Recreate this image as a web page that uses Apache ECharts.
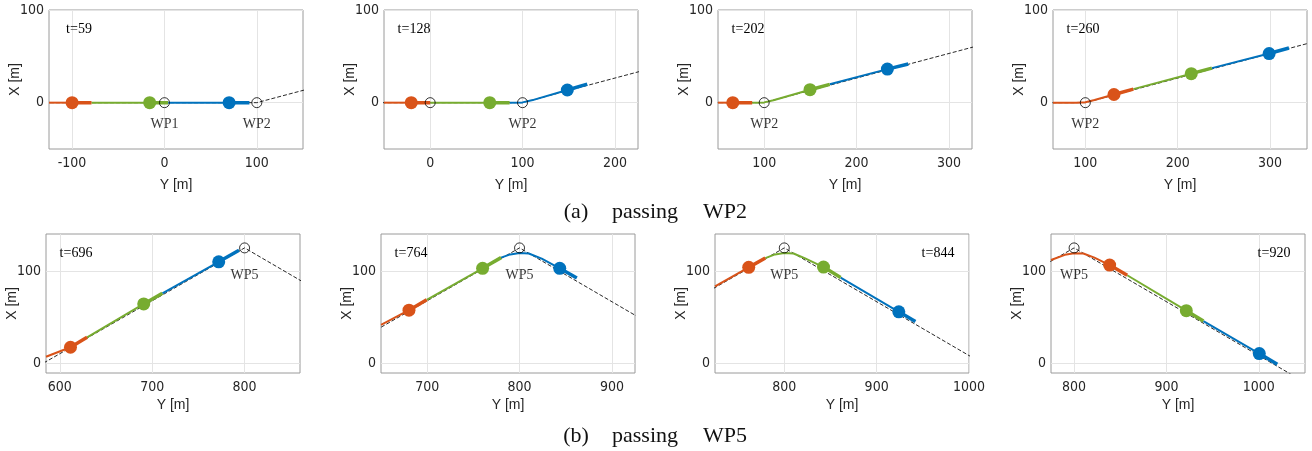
<!DOCTYPE html>
<html>
<head>
<meta charset="utf-8">
<script src="https://cdn.jsdelivr.net/npm/echarts@6/dist/echarts.min.js"></script>
<style>
html,body{margin:0;padding:0;background:#fff}
#main{width:1312px;height:451px}
</style>
</head>
<body>
<div id="main"></div>
<script>
// snapshot times
var tLabels = ['t=59', 't=128', 't=202', 't=260', 't=696', 't=764', 't=844', 't=920'];

// axis ranges per panel (horizontal = Y [m], vertical = X [m])
var xMin = [-125, -50, 50, 65, 585, 650, 725, 775];
var xMax = [150, 225, 325, 340, 860, 925, 1000, 1050];
var yMin = [-50, -50, -50, -50, -10, -10, -10, -10];
var yMax = [100, 100, 100, 100, 140, 140, 140, 140];
var xTicks = [[-100, 0, 100], [0, 100, 200], [100, 200, 300], [100, 200, 300],
              [600, 700, 800], [700, 800, 900], [800, 900, 1000], [800, 900, 1000]];
var yTicks = [0, 100];

// reference path, [Y, X]
var refA = [[-150, 0], [0, 0], [100, 0], [360, 69]];
var refB = [[560, -12], [800, 125], [1060, -26]];

// waypoints
var wpA = [[0, 0], [100, 0]];
var wpNamesA = ['WP1', 'WP2'];
var wpB = [[800, 125]];
var wpNamesB = ['WP5'];
var wpShown = [['WP1', 'WP2'], ['WP2'], ['WP2'], ['WP2'], ['WP5'], ['WP5'], ['WP5'], ['WP5']];

// vehicles: trail behind, current position, tip of heading segment
var orangeTrail = [[[-125, 0]], [[-50, 0]], [[50, 0]], [[65, 0], [90, 0], [100, 0.4], [110, 2.8]],
                   [[585, 7.5]], [[650, 42]], [[725, 83.5]],
                   [[775, 112], [790, 117.5], [800, 119.3], [810, 119], [822, 114.5]]];
var orangePos = [[-100, 0], [-20.5, 0], [66, 0], [131, 8.8], [611.5, 17.8], [680.3, 57.8], [761.5, 104], [838.5, 106.5]];
var orangeTip = [[-79, 0], [0, 0], [87, 0], [152, 14.6], [629.5, 28.5], [699.5, 69], [779.5, 114], [857.5, 95.5]];

var greenTrail = [[[-79, 0]], [[0, 0]], [[87, 0], [100, 0.3], [110, 2.6]], [[152, 14.6]],
                  [[629.5, 28.5]], [[699.5, 69]],
                  [[779.5, 114], [790, 118], [800, 119.5], [810, 119], [822, 114]], [[857.5, 95.5]]];
var greenPos = [[-16, 0], [64.5, 0], [149.6, 14], [214.7, 31.3], [690.8, 64.5], [760, 103], [842.5, 104.3], [921.5, 57.3]];
var greenTip = [[4, 0], [86, 0], [171, 19.8], [237, 37.3], [711, 76], [780, 114.5], [861, 93], [940, 46]];

var blueTrail = [[[4, 0]], [[86, 0], [100, 0.3], [110, 2.5]], [[171, 19.8]], [[237, 37.3]],
                 [[711, 76]], [[780, 114.5], [790, 118], [800, 119.5], [810, 119], [824, 113.5]],
                 [[861, 93]], [[940, 46]]];
var bluePos = [[70, 0], [148.5, 13.7], [233.4, 36.2], [299, 53], [772, 110], [843.5, 103], [924, 56], [1000.5, 11]];
var blueTip = [[92, 0], [170, 20], [256, 41.8], [320.5, 59], [794, 122.5], [862, 92.5], [942, 45.5], [1020, -0.5]];

var myChart = echarts.init(document.getElementById('main'));

var gLeft = [49, 384, 718, 1053, 46, 381, 715, 1051];
var gWidth = 254, gHeight = 139;
var sans = '"Liberation Sans Narrow","DejaVu Sans Condensed","Liberation Sans",Arial,sans-serif';
var serif = '"Liberation Serif","DejaVu Serif",serif';

var grids = [], xAxes = [], yAxes = [], series = [], graphics = [];

function plain(v) { return String(v); }

function addVehicle(i, color, trail, pos, tip) {
	series.push({
		type: 'line', xAxisIndex: i, yAxisIndex: i, symbol: 'none', silent: true, z: 2,
		lineStyle: {color: color, width: 2},
		data: trail[i].concat([pos[i]])
	});
	series.push({
		type: 'line', xAxisIndex: i, yAxisIndex: i, symbol: 'none', silent: true, z: 3,
		lineStyle: {color: color, width: 3.5},
		data: [pos[i], tip[i]]
	});
	series.push({
		type: 'scatter', xAxisIndex: i, yAxisIndex: i, symbolSize: 13, silent: true, z: 4,
		itemStyle: {color: color, opacity: 1},
		data: [pos[i]]
	});
}

for (var i = 0; i < 8; i++) {
	var gTop = i < 4 ? 10 : 234;
	grids.push({left: gLeft[i], top: gTop, width: gWidth, height: gHeight,
		show: true, borderColor: '#9a9a9a', borderWidth: 1});
	xAxes.push({
		gridIndex: i, type: 'value', min: xMin[i], max: xMax[i],
		name: 'Y [m]', nameLocation: 'middle', nameGap: i < 4 ? 29 : 25, nameMoveOverlap: false,
		nameTextStyle: {fontFamily: '"Liberation Sans",Arial,sans-serif', fontSize: 14, color: '#262626'},
		axisLine: {show: false},
		axisTick: {show: false, customValues: xTicks[i]},
		axisLabel: {customValues: xTicks[i], formatter: plain, fontFamily: sans, fontSize: 14, color: '#262626', margin: 7},
		splitLine: {show: true, lineStyle: {color: '#e4e4e4', width: 1}}
	});
	yAxes.push({
		gridIndex: i, type: 'value', min: yMin[i], max: yMax[i],
		name: 'X [m]', nameLocation: 'middle', nameGap: 27, nameRotate: 90, nameMoveOverlap: false,
		nameTextStyle: {fontFamily: '"Liberation Sans",Arial,sans-serif', fontSize: 14, color: '#262626'},
		axisLine: {show: false},
		axisTick: {show: false, customValues: yTicks},
		axisLabel: {customValues: yTicks, formatter: plain, fontFamily: sans, fontSize: 14, color: '#262626', margin: 5},
		splitLine: {show: true, lineStyle: {color: '#e4e4e4', width: 1}}
	});

	// reference path
	series.push({
		type: 'line', xAxisIndex: i, yAxisIndex: i, symbol: 'none', silent: true, z: 1,
		lineStyle: {color: '#111', width: 0.9, type: [4, 2]},
		data: i < 4 ? refA : refB
	});

	addVehicle(i, '#D95319', orangeTrail, orangePos, orangeTip);
	addVehicle(i, '#77AC30', greenTrail, greenPos, greenTip);
	addVehicle(i, '#0072BD', blueTrail, bluePos, blueTip);

	// waypoints
	var wp = i < 4 ? wpA : wpB;
	var wpN = i < 4 ? wpNamesA : wpNamesB;
	var wpData = [];
	for (var k = 0; k < wp.length; k++) {
		wpData.push({value: wp[k], name: wpN[k],
			label: {show: wpShown[i].indexOf(wpN[k]) >= 0}});
	}
	series.push({
		type: 'scatter', xAxisIndex: i, yAxisIndex: i, symbol: 'circle', symbolSize: 10, silent: true, z: 5,
		itemStyle: {color: 'rgba(0,0,0,0)', borderColor: '#000', borderWidth: 1},
		label: {position: 'bottom', distance: i < 4 ? 9 : 15, formatter: '{b}',
			fontFamily: serif, fontSize: 14, color: '#000'},
		data: wpData
	});

	// time label
	var tx = (i == 6 || i == 7) ? gLeft[i] + gWidth - 31 : gLeft[i] + 30;
	graphics.push({type: 'text', x: tx, y: gTop + 19, z: 10,
		style: {text: tLabels[i], align: 'center', verticalAlign: 'middle',
			font: '14px ' + serif, fill: '#000'}});
}

// sub-figure captions
var capA = ['(a)', 'passing', 'WP2'];
var capB = ['(b)', 'passing', 'WP5'];
var capX = [576, 645, 725];
for (var c = 0; c < 3; c++) {
	graphics.push({type: 'text', x: capX[c], y: 212,
		style: {text: capA[c], align: 'center', verticalAlign: 'middle', font: '22px ' + serif, fill: '#111'}});
	graphics.push({type: 'text', x: capX[c], y: 436,
		style: {text: capB[c], align: 'center', verticalAlign: 'middle', font: '22px ' + serif, fill: '#111'}});
}

myChart.setOption({
	animation: false,
	grid: grids,
	xAxis: xAxes,
	yAxis: yAxes,
	series: series,
	graphic: graphics
});
</script>
</body>
</html>
